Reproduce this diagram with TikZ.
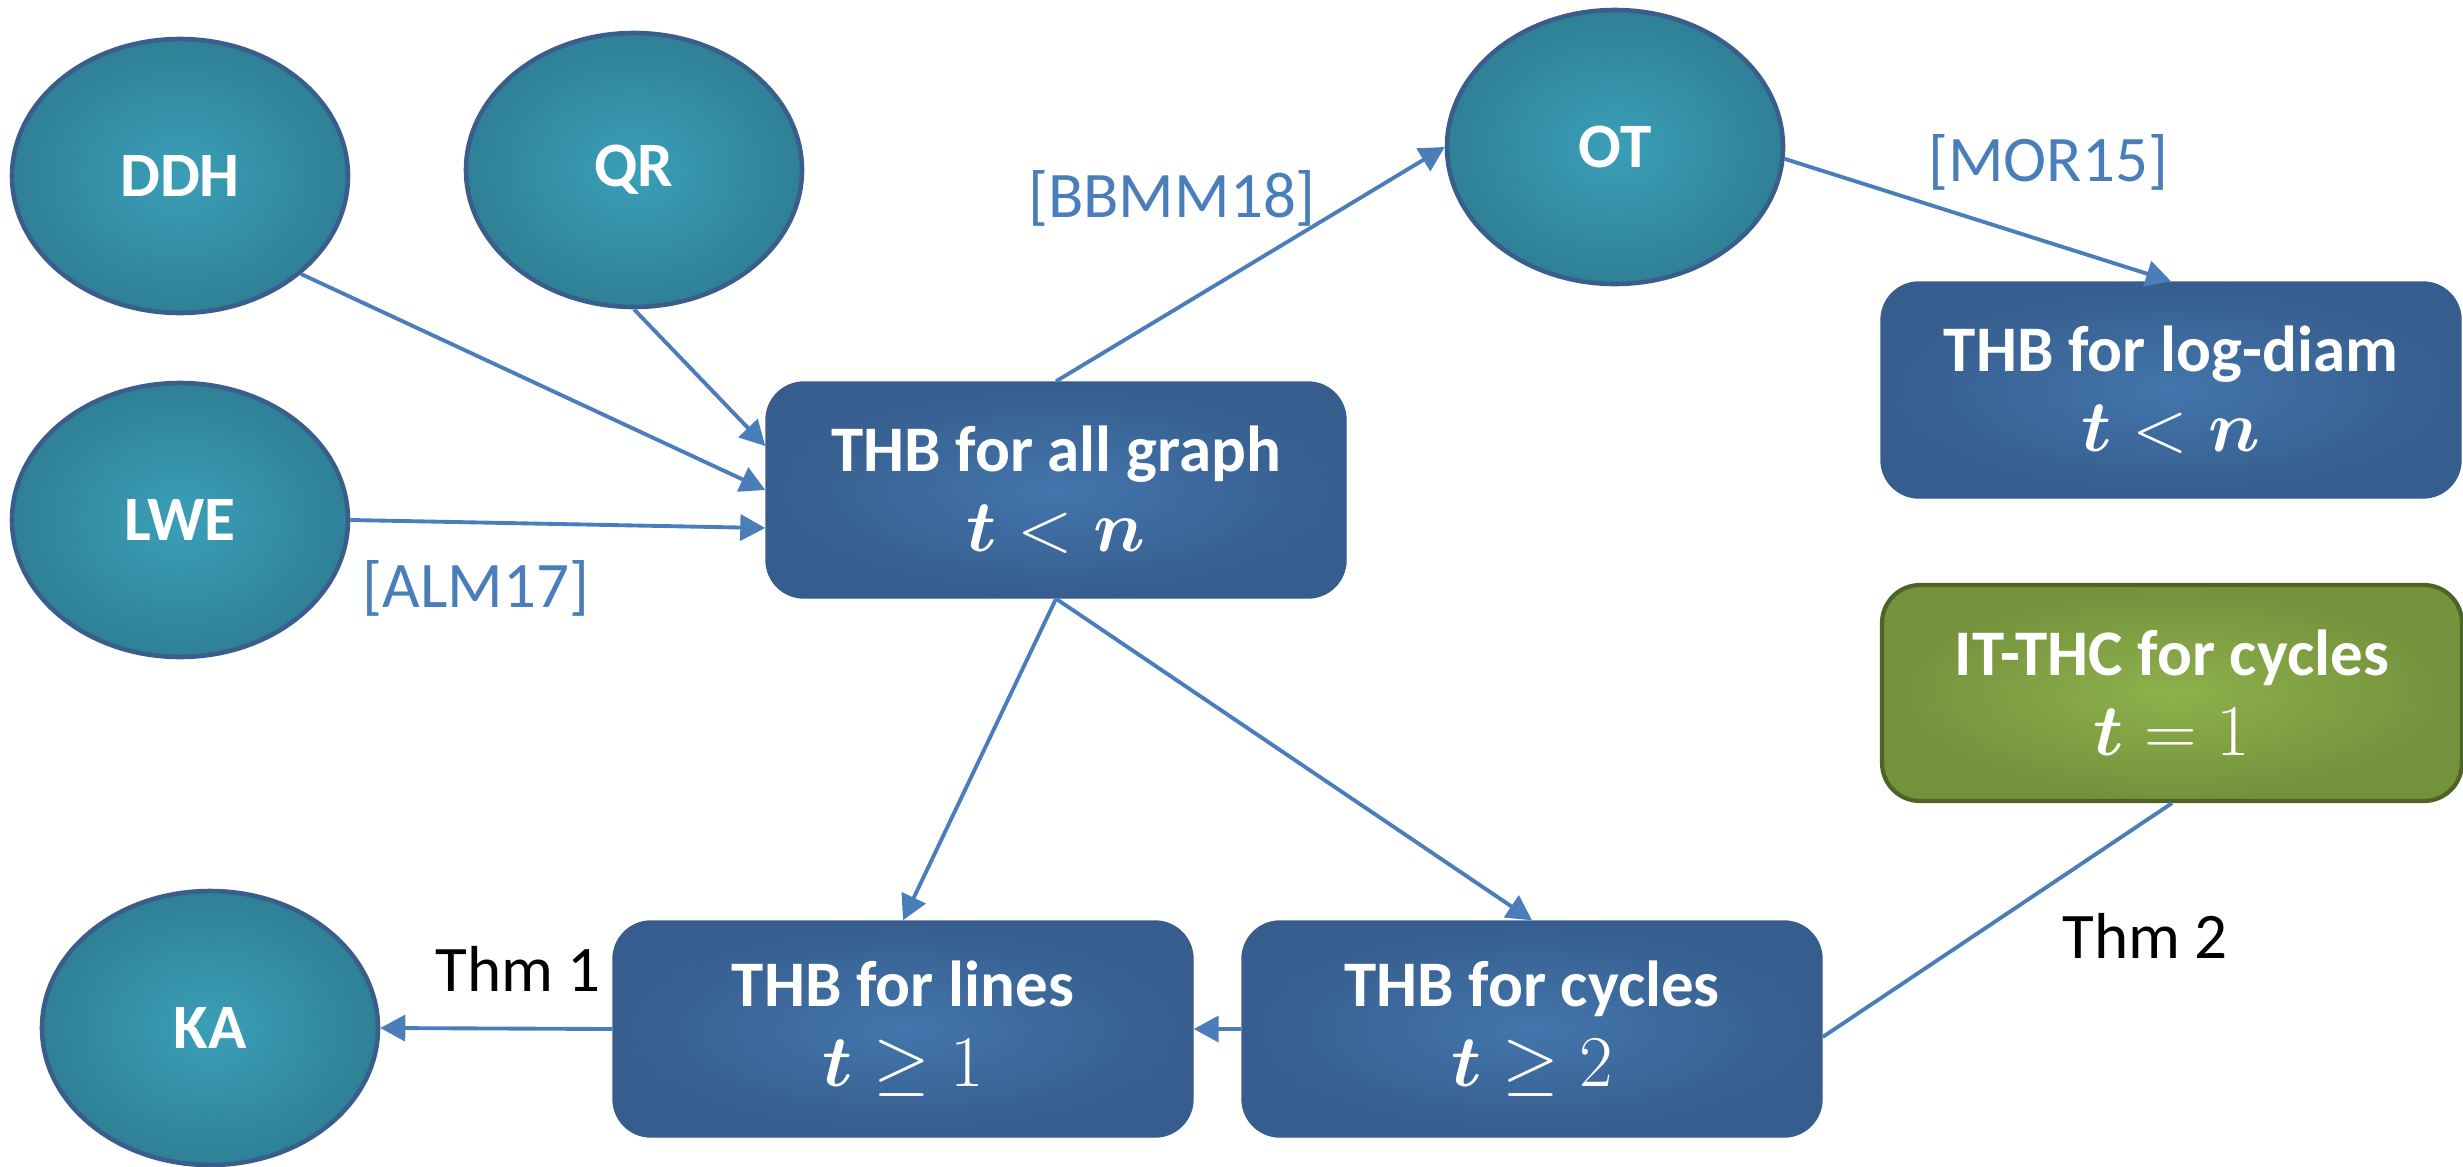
\documentclass[tikz,border=0pt]{standalone}
\usepackage[no-math]{fontspec}
\usepackage{bm}
\setmainfont{Carlito}
\usetikzlibrary{shapes.geometric,arrows.meta}

\definecolor{ellin}{RGB}{58,159,184}
\definecolor{ellout}{RGB}{47,128,150}
\definecolor{ellline}{RGB}{58,94,140}
\definecolor{boxin}{RGB}{67,117,172}
\definecolor{boxout}{RGB}{54,93,141}
\definecolor{grin}{RGB}{141,177,76}
\definecolor{grout}{RGB}{116,145,60}
\definecolor{grline}{RGB}{79,98,40}
\definecolor{linkblue}{RGB}{74,126,187}

\newcommand{\bmath}[1]{{\fontsize{19.5}{22.7}\selectfont$#1$}}

\begin{document}
\begin{tikzpicture}[
  assum/.style={ellipse, draw=ellline, line width=1.3pt, inner color=ellin, outer color=ellout,
    minimum width=3.36cm, minimum height=2.74cm, inner sep=0pt, text=white,
    font=\fontsize{18}{22}\selectfont\bfseries},
  thb/.style={rectangle, rounded corners=0.38cm, draw=boxout, line width=0.4pt,
    inner color=boxin, outer color=boxout, minimum width=5.8cm, minimum height=2.16cm,
    text=white, align=center, font=\fontsize{18.5}{22.7}\selectfont\bfseries},
  ithc/.style={thb, draw=grline, line width=1.2pt, inner color=grin, outer color=grout},
  link/.style={draw=linkblue, line width=1.1pt, -{Triangle[length=0.25cm,width=0.26cm]}},
  plainlink/.style={draw=linkblue, line width=1.1pt},
  cite/.style={text=linkblue, font=\fontsize{18.5}{22}\selectfont},
  thm/.style={text=black, anchor=base west, font=\fontsize{18.5}{22}\selectfont},
]
\useasboundingbox (0,0) rectangle (24.63,-11.66);

% Assumptions
\node[assum] (DDH) at (1.80,-1.76) {DDH};
\node[assum] (QR) at (6.34,-1.70) {QR};
\node[assum] (LWE) at (1.80,-5.20) {LWE};
\node[assum] (OT) at (16.15,-1.47) {OT};
\node[assum] (KA) at (2.10,-10.28) {KA};

% Results
\node[thb] (allg) at (10.56,-4.90) {THB for all graph\\\bmath{\bm{t}<\bm{n}}};
\node[thb] (logd) at (21.71,-3.90) {THB for log-diam\\\bmath{\bm{t}<\bm{n}}};
\node[ithc] (itthc) at (21.72,-6.93) {IT-THC for cycles\\\bmath{\bm{t}=1}};
\node[thb] (lines) at (9.03,-10.29) {THB for lines\\\bmath{\bm{t}\geq 1}};
\node[thb] (cycles) at (15.32,-10.29) {THB for cycles\\\bmath{\bm{t}\geq 2}};

% Connectors
\draw[link] (DDH.-39) -- (allg.west);
\draw[link] (QR.south) -- ([yshift=0.44cm]allg.west);
\draw[link] (LWE.east) -- ([yshift=-0.38cm]allg.west);
\draw[link] (allg.north) -- (OT.west);
\draw[link] (OT.-4) -- (logd.north);
\draw[link] (allg.south) -- (lines.north);
\draw[link] (allg.south) -- (cycles.north);
\draw[link] (cycles.west) -- (lines.east);
\draw[link] (lines.west) -- (KA.east);
\draw[plainlink] (itthc.south) -- ([yshift=-0.08cm]cycles.east);

% Labels
\node[cite] (bbmm) at (11.72,-1.98) {[BBMM18]};
\node[cite] (mor) at (20.48,-1.62) {[MOR15]};
\node[cite] (alm) at (4.76,-5.88) {[ALM17]};
\node[thm] (thmone) at (4.23,-9.91) {Thm 1};
\node[thm] (thmtwo) at (20.50,-9.58) {Thm 2};

\end{tikzpicture}
\end{document}
